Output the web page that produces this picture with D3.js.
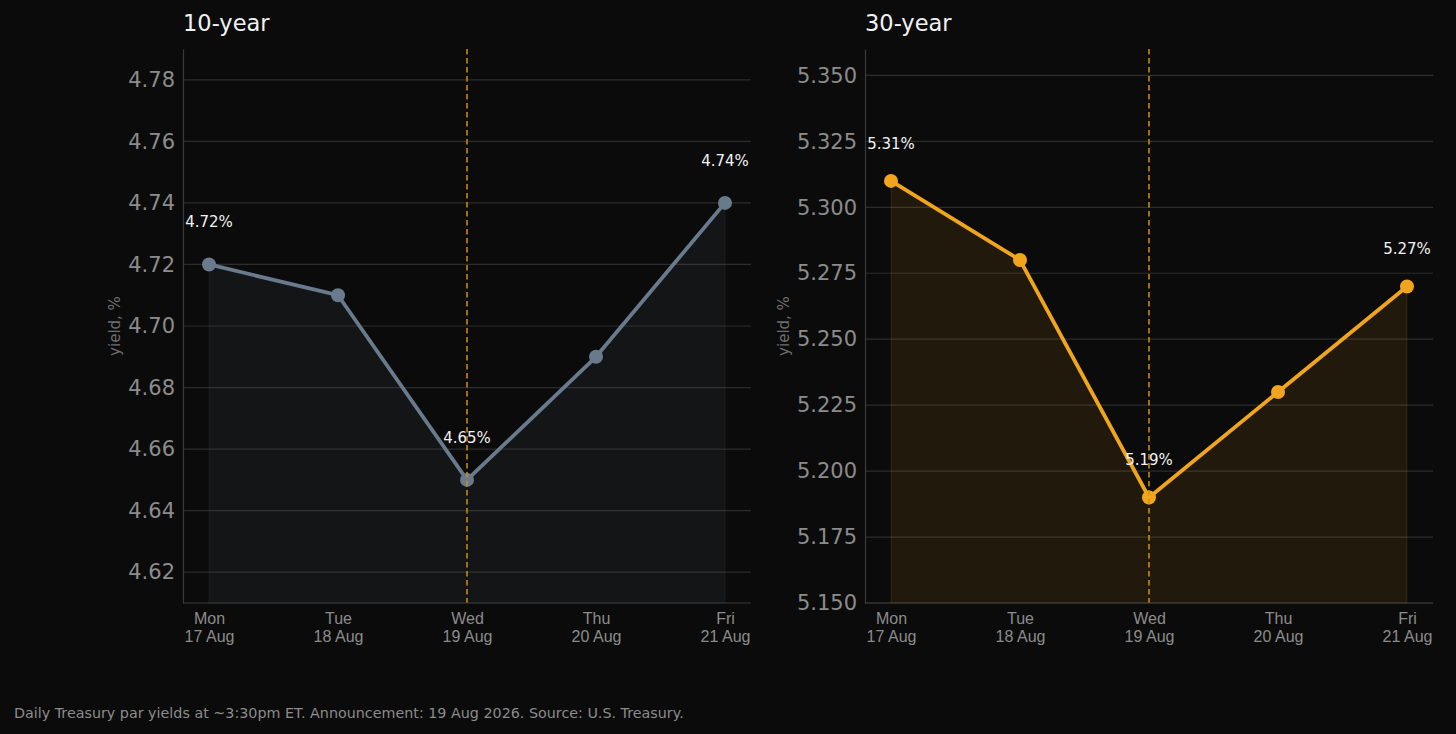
<!DOCTYPE html>
<html>
<head>
<meta charset="utf-8">
<script src="https://cdn.jsdelivr.net/npm/d3@7"></script>
<style>
  html, body { margin: 0; padding: 0; background: #0b0b0b; }
  svg { display: block; font-family: "DejaVu Sans", sans-serif; }
</style>
</head>
<body>
<svg id="chart" width="1456" height="734"></svg>
<script>
// data
const days = ["Mon", "Tue", "Wed", "Thu", "Fri"];
const dates = ["17 Aug", "18 Aug", "19 Aug", "20 Aug", "21 Aug"];
const tenYear = [4.72, 4.71, 4.65, 4.69, 4.74];
const thirtyYear = [5.31, 5.28, 5.19, 5.23, 5.27];
const tenTicks = [4.62, 4.64, 4.66, 4.68, 4.70, 4.72, 4.74, 4.76, 4.78];
const thirtyTicks = [5.150, 5.175, 5.200, 5.225, 5.250, 5.275, 5.300, 5.325, 5.350];
const labelIdx10 = [0, 2, 4]; // which points get a % label
const labelIdx30 = [0, 2, 4];
const announceDay = "Wed";

const svg = d3.select("#chart");
svg.append("rect").attr("width", 1456).attr("height", 734).attr("fill", "#0b0b0b");

function panel(opts) {
  const { left, top, width, height } = opts;
  const g = svg.append("g").attr("transform", `translate(${left},${top})`);

  const x = d3.scalePoint().domain(days).range([26, width - 26]);
  const y = d3.scaleLinear().domain(opts.domain).range([height, 0]);

  // grid
  g.selectAll(".grid")
    .data(opts.ticks)
    .join("line")
    .attr("x1", 0)
    .attr("x2", width)
    .attr("y1", (d) => y(d))
    .attr("y2", (d) => y(d))
    .attr("stroke", "#2c2c2c")
    .attr("stroke-width", 1.2);

  const pts = opts.values.map((v, i) => ({ day: days[i], v: v }));

  // area under the line
  const area = d3.area()
    .x((d) => x(d.day))
    .y0(height)
    .y1((d) => y(d.v));
  g.append("path")
    .datum(pts)
    .attr("d", area)
    .attr("fill", opts.color)
    .attr("fill-opacity", opts.fillOpacity)
    .attr("stroke", opts.color)
    .attr("stroke-opacity", 0.12)
    .attr("stroke-width", 1);

  // line
  const line = d3.line().x((d) => x(d.day)).y((d) => y(d.v));
  g.append("path")
    .datum(pts)
    .attr("d", line)
    .attr("fill", "none")
    .attr("stroke", opts.color)
    .attr("stroke-width", 3.8)
    .attr("stroke-linejoin", "round");

  g.selectAll(".dot")
    .data(pts)
    .join("circle")
    .attr("cx", (d) => x(d.day))
    .attr("cy", (d) => y(d.v))
    .attr("r", 7)
    .attr("fill", opts.color);

  // value labels
  g.selectAll(".lbl")
    .data(opts.labels.map((i) => pts[i]))
    .join("text")
    .attr("x", (d) => x(d.day))
    .attr("y", (d) => y(d.v) - opts.labelOffset)
    .attr("text-anchor", "middle")
    .attr("dominant-baseline", "central")
    .attr("fill", "#f2f2f2")
    .attr("font-size", 15)
    .text((d) => d.v.toFixed(2) + "%");

  // announcement marker
  g.append("line")
    .attr("x1", x(announceDay))
    .attr("x2", x(announceDay))
    .attr("y1", 0)
    .attr("y2", height)
    .attr("stroke", "#d4910f")
    .attr("stroke-width", 1.5)
    .attr("stroke-dasharray", "5.5,3.5");

  // axes
  const yAxis = d3.axisLeft(y).tickValues(opts.ticks).tickFormat(d3.format(opts.fmt)).tickSize(0).tickPadding(8);
  const ya = g.append("g").call(yAxis);
  ya.select(".domain").attr("stroke", "#3a3a3a").attr("stroke-width", 1.2);
  ya.selectAll("text").attr("fill", "#8c8c8c").attr("font-size", 21).attr("font-family", "DejaVu Sans");

  const xAxis = d3.axisBottom(x).tickSize(0).tickFormat("");
  const xa = g.append("g").attr("transform", `translate(0,${height})`).call(xAxis);
  xa.select(".domain").attr("stroke", "#3a3a3a").attr("stroke-width", 1.2).attr("d", `M0,0H${width}`);
  xa.selectAll(".tick").each(function (d, i) {
    const t = d3.select(this).append("text")
      .attr("text-anchor", "middle")
      .attr("fill", "#8c8c8c")
      .attr("font-size", 16);
    t.append("tspan").attr("x", 0).attr("y", 21).text(d);
    t.append("tspan").attr("x", 0).attr("y", 39).text(dates[i]);
  });

  g.append("text")
    .attr("transform", `translate(${opts.ylabelX},${height / 2}) rotate(-90)`)
    .attr("text-anchor", "middle")
    .attr("fill", "#6e6e6e")
    .attr("font-size", 15)
    .text("yield, %");

  g.append("text")
    .attr("x", 0)
    .attr("y", -18)
    .attr("fill", "#f2f2f2")
    .attr("font-size", 22.5)
    .text(opts.title);
}

panel({
  left: 183, top: 49, width: 568, height: 554,
  domain: [4.61, 4.79], ticks: tenTicks, values: tenYear, fmt: ".2f",
  color: "#687a8c", fillOpacity: 0.09, labels: labelIdx10, labelOffset: 42,
  ylabelX: -63, title: "10-year"
});

panel({
  left: 865, top: 49, width: 568, height: 554,
  domain: [5.15, 5.36], ticks: thirtyTicks, values: thirtyYear, fmt: ".3f",
  color: "#f0a51c", fillOpacity: 0.1, labels: labelIdx30, labelOffset: 37,
  ylabelX: -76, title: "30-year"
});

svg.append("text")
  .attr("x", 14)
  .attr("y", 718)
  .attr("fill", "#8c8c8c")
  .attr("font-size", 14.3)
  .text("Daily Treasury par yields at ~3:30pm ET. Announcement: 19 Aug 2026. Source: U.S. Treasury.");
</script>
</body>
</html>
